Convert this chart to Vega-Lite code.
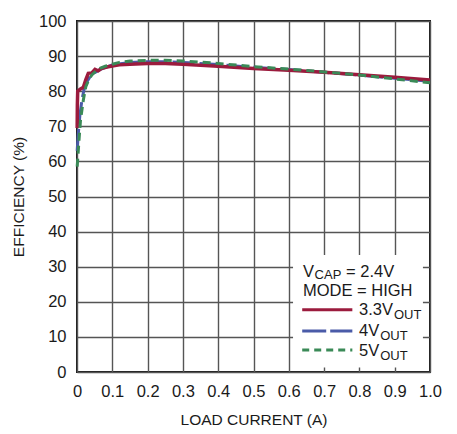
{
  "$schema": "https://vega.github.io/schema/vega-lite/v6.json",
  "width": 353,
  "height": 351,
  "autosize": {"type": "none"},
  "padding": {"left": 77, "top": 21, "right": 27, "bottom": 62},
  "background": "white",
  "config": {
    "font": "Liberation Sans",
    "view": {"stroke": "#1a1a1a", "strokeWidth": 2},
    "axis": {
      "labelFont": "Liberation Sans",
      "titleFont": "Liberation Sans",
      "labelFontSize": 16.5,
      "titleFontSize": 15.5,
      "titleFontWeight": "normal",
      "labelColor": "#1a1a1a",
      "titleColor": "#1a1a1a",
      "labelFlush": false,
      "ticks": false,
      "domain": false,
      "gridColor": "#555555",
      "gridWidth": 1.4,
      "gridOpacity": 1
    }
  },
  "datasets": {
    "curves": [
      {"series": "3.3V", "current": 0.0005, "eff": 69.5},
      {"series": "3.3V", "current": 0.001, "eff": 76.0},
      {"series": "3.3V", "current": 0.002, "eff": 80.0},
      {"series": "3.3V", "current": 0.009, "eff": 80.6},
      {"series": "3.3V", "current": 0.018, "eff": 81.1},
      {"series": "3.3V", "current": 0.025, "eff": 83.3},
      {"series": "3.3V", "current": 0.032, "eff": 85.1},
      {"series": "3.3V", "current": 0.042, "eff": 85.2},
      {"series": "3.3V", "current": 0.051, "eff": 86.2},
      {"series": "3.3V", "current": 0.06, "eff": 85.8},
      {"series": "3.3V", "current": 0.07, "eff": 86.5},
      {"series": "3.3V", "current": 0.085, "eff": 86.9},
      {"series": "3.3V", "current": 0.1, "eff": 87.2},
      {"series": "3.3V", "current": 0.12, "eff": 87.5},
      {"series": "3.3V", "current": 0.15, "eff": 87.7},
      {"series": "3.3V", "current": 0.2, "eff": 87.9},
      {"series": "3.3V", "current": 0.25, "eff": 87.9},
      {"series": "3.3V", "current": 0.3, "eff": 87.7},
      {"series": "3.3V", "current": 0.35, "eff": 87.4},
      {"series": "3.3V", "current": 0.4, "eff": 87.1},
      {"series": "3.3V", "current": 0.5, "eff": 86.5},
      {"series": "3.3V", "current": 0.6, "eff": 86.0},
      {"series": "3.3V", "current": 0.7, "eff": 85.4},
      {"series": "3.3V", "current": 0.8, "eff": 84.7},
      {"series": "3.3V", "current": 0.9, "eff": 84.0},
      {"series": "3.3V", "current": 1.0, "eff": 83.2},
      {"series": "4V", "current": 0.0005, "eff": 63.0},
      {"series": "4V", "current": 0.003, "eff": 67.0},
      {"series": "4V", "current": 0.008, "eff": 73.0},
      {"series": "4V", "current": 0.014, "eff": 77.5},
      {"series": "4V", "current": 0.02, "eff": 80.5},
      {"series": "4V", "current": 0.03, "eff": 83.0},
      {"series": "4V", "current": 0.04, "eff": 84.6},
      {"series": "4V", "current": 0.05, "eff": 85.3},
      {"series": "4V", "current": 0.07, "eff": 86.4},
      {"series": "4V", "current": 0.1, "eff": 87.5},
      {"series": "4V", "current": 0.15, "eff": 88.2},
      {"series": "4V", "current": 0.2, "eff": 88.4},
      {"series": "4V", "current": 0.25, "eff": 88.4},
      {"series": "4V", "current": 0.3, "eff": 88.2},
      {"series": "4V", "current": 0.4, "eff": 87.6},
      {"series": "4V", "current": 0.5, "eff": 86.8},
      {"series": "4V", "current": 0.6, "eff": 86.2},
      {"series": "4V", "current": 0.7, "eff": 85.4},
      {"series": "4V", "current": 0.8, "eff": 84.6},
      {"series": "4V", "current": 0.9, "eff": 83.7},
      {"series": "4V", "current": 1.0, "eff": 82.8},
      {"series": "5V", "current": 0.0005, "eff": 58.5},
      {"series": "5V", "current": 0.003, "eff": 62.0},
      {"series": "5V", "current": 0.006, "eff": 66.5},
      {"series": "5V", "current": 0.01, "eff": 71.8},
      {"series": "5V", "current": 0.018, "eff": 77.5},
      {"series": "5V", "current": 0.025, "eff": 81.3},
      {"series": "5V", "current": 0.033, "eff": 83.2},
      {"series": "5V", "current": 0.042, "eff": 84.6},
      {"series": "5V", "current": 0.052, "eff": 85.6},
      {"series": "5V", "current": 0.065, "eff": 86.5},
      {"series": "5V", "current": 0.08, "eff": 87.1},
      {"series": "5V", "current": 0.1, "eff": 87.7},
      {"series": "5V", "current": 0.12, "eff": 88.2},
      {"series": "5V", "current": 0.15, "eff": 88.6},
      {"series": "5V", "current": 0.2, "eff": 88.8},
      {"series": "5V", "current": 0.25, "eff": 88.8},
      {"series": "5V", "current": 0.3, "eff": 88.6},
      {"series": "5V", "current": 0.35, "eff": 88.3},
      {"series": "5V", "current": 0.4, "eff": 87.9},
      {"series": "5V", "current": 0.5, "eff": 87.0},
      {"series": "5V", "current": 0.6, "eff": 86.3},
      {"series": "5V", "current": 0.7, "eff": 85.5},
      {"series": "5V", "current": 0.8, "eff": 84.6},
      {"series": "5V", "current": 0.9, "eff": 83.5},
      {"series": "5V", "current": 1.0, "eff": 82.4}
    ],
    "keyLines": [
      {"series": "3.3V", "current": 0.638, "eff": 17.7},
      {"series": "3.3V", "current": 0.78, "eff": 17.7},
      {"series": "4V", "current": 0.638, "eff": 11.7},
      {"series": "4V", "current": 0.78, "eff": 11.7},
      {"series": "5V", "current": 0.638, "eff": 6.3},
      {"series": "5V", "current": 0.78, "eff": 6.3}
    ],
    "keyText": [
      {"label": "V", "current": 0.64, "eff": 27.2},
      {"label": "= 2.4V", "current": 0.762, "eff": 27.2},
      {"label": "MODE = HIGH", "current": 0.64, "eff": 21.7},
      {"label": "3.3V", "current": 0.799, "eff": 16.2},
      {"label": "4V", "current": 0.799, "eff": 10.3},
      {"label": "5V", "current": 0.799, "eff": 4.6}
    ],
    "keySub": [
      {"label": "CAP", "current": 0.673, "eff": 26.4},
      {"label": "OUT", "current": 0.898, "eff": 15.0},
      {"label": "OUT", "current": 0.859, "eff": 9.1},
      {"label": "OUT", "current": 0.859, "eff": 3.4}
    ],
    "keyBox": [
      {"x1": 0.612, "x2": 0.98, "y1": 1.3, "y2": 33.3}
    ]
  },
  "encoding": {
    "x": {
      "field": "current",
      "type": "quantitative",
      "title": "LOAD CURRENT (A)",
      "scale": {"domain": [0, 1]},
      "axis": {
        "values": [0, 0.1, 0.2, 0.3, 0.4, 0.5, 0.6, 0.7, 0.8, 0.9, 1.0],
        "labelExpr": "datum.value == 0 ? '0' : format(datum.value, '.1f')",
        "labelPadding": 11,
        "titlePadding": 13
      }
    },
    "y": {
      "field": "eff",
      "type": "quantitative",
      "title": "EFFICIENCY (%)",
      "scale": {"domain": [0, 100]},
      "axis": {
        "values": [0, 10, 20, 30, 40, 50, 60, 70, 80, 90, 100],
        "labelPadding": 11,
        "titlePadding": 12
      }
    }
  },
  "layer": [
    {
      "data": {"name": "keyBox"},
      "mark": {"type": "rect", "fill": "white", "stroke": null},
      "encoding": {
        "x": {"field": "x1", "type": "quantitative"},
        "x2": {"field": "x2"},
        "y": {"field": "y1", "type": "quantitative"},
        "y2": {"field": "y2"}
      }
    },
    {
      "data": {"name": "curves"},
      "transform": [{"filter": "datum.series == '4V'"}],
      "mark": {"type": "line", "color": "#4a5ba8", "strokeWidth": 3, "strokeDash": [22, 5]}
    },
    {
      "data": {"name": "curves"},
      "transform": [{"filter": "datum.series == '3.3V'"}],
      "mark": {"type": "line", "color": "#9b1b3d", "strokeWidth": 3.5}
    },
    {
      "data": {"name": "curves"},
      "transform": [{"filter": "datum.series == '5V'"}],
      "mark": {"type": "line", "color": "#3a8a57", "strokeWidth": 3, "strokeDash": [8, 5]}
    },
    {
      "data": {"name": "keyLines"},
      "transform": [{"filter": "datum.series == '3.3V'"}],
      "mark": {"type": "line", "color": "#9b1b3d", "strokeWidth": 3}
    },
    {
      "data": {"name": "keyLines"},
      "transform": [{"filter": "datum.series == '4V'"}],
      "mark": {"type": "line", "color": "#4a5ba8", "strokeWidth": 3, "strokeDash": [24, 4]}
    },
    {
      "data": {"name": "keyLines"},
      "transform": [{"filter": "datum.series == '5V'"}],
      "mark": {"type": "line", "color": "#3a8a57", "strokeWidth": 3, "strokeDash": [7, 5]}
    },
    {
      "data": {"name": "keyText"},
      "mark": {"type": "text", "align": "left", "baseline": "alphabetic", "fontSize": 16.5, "font": "Liberation Sans", "color": "#1a1a1a"},
      "encoding": {"text": {"field": "label"}}
    },
    {
      "data": {"name": "keySub"},
      "mark": {"type": "text", "align": "left", "baseline": "alphabetic", "fontSize": 13, "font": "Liberation Sans", "color": "#1a1a1a"},
      "encoding": {"text": {"field": "label"}}
    }
  ]
}
